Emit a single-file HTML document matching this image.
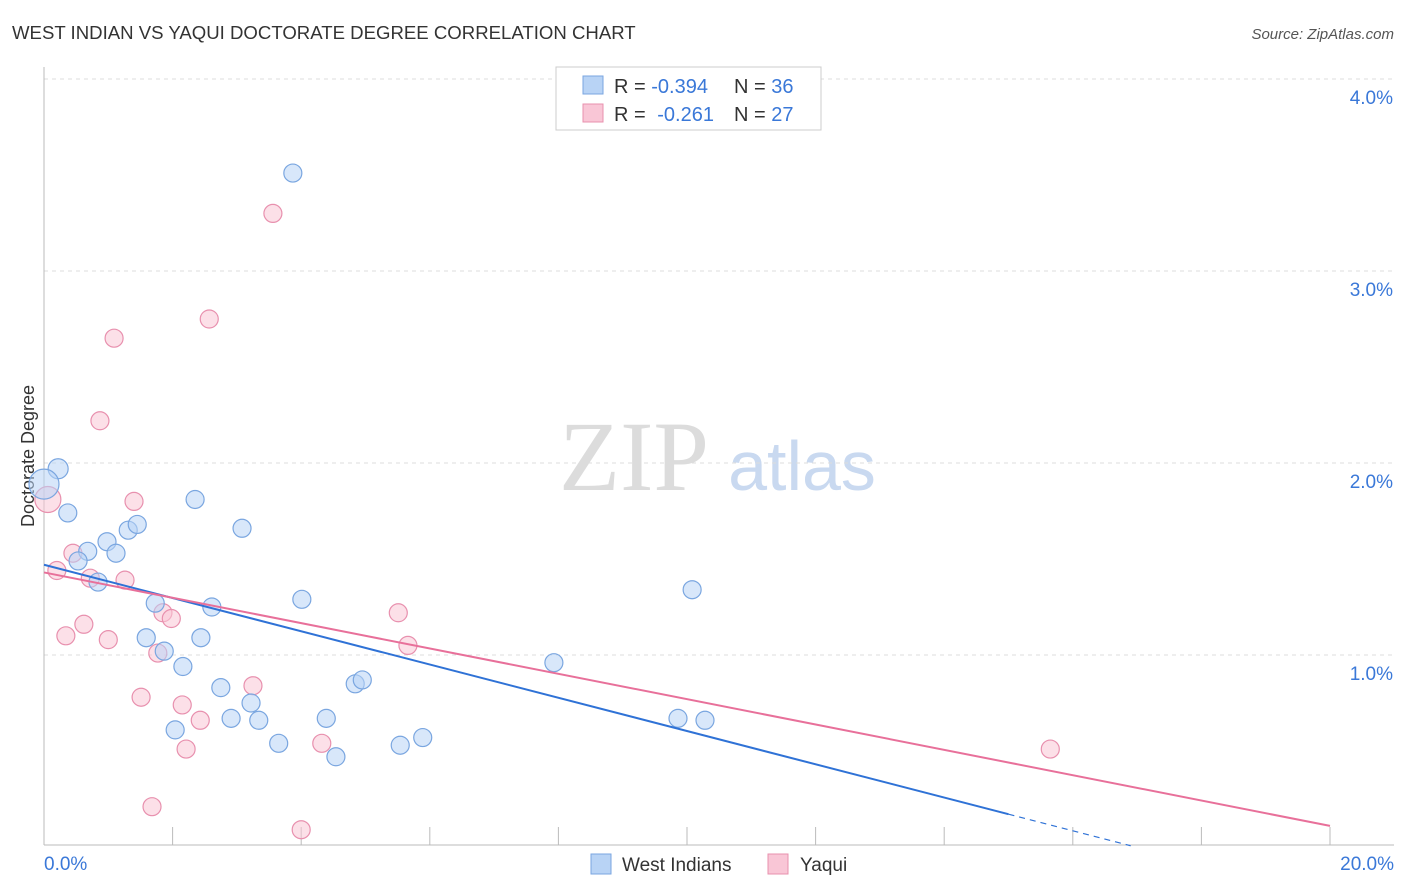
<!DOCTYPE html>
<html><head><meta charset="utf-8"><style>
body{margin:0;background:#fff;font-family:"Liberation Sans",sans-serif;}
#wrap{position:relative;width:1406px;height:892px;overflow:hidden;}
</style></head><body><div id="wrap">
<svg id="chart" width="1406" height="892" xmlns="http://www.w3.org/2000/svg">
<text x="12" y="39" font-size="18.6" fill="#333">WEST INDIAN VS YAQUI DOCTORATE DEGREE CORRELATION CHART</text>
<text x="1394" y="39" font-size="15" fill="#555" font-style="italic" text-anchor="end">Source: ZipAtlas.com</text>
<text x="634" y="490" font-size="100" fill="#dcdcdc" font-family="Liberation Serif,serif" text-anchor="middle">ZIP</text>
<text x="802" y="490" font-size="70" fill="#c9d9f0" text-anchor="middle">atlas</text>
<text transform="translate(34,456) rotate(-90)" font-size="18" fill="#333" text-anchor="middle">Doctorate Degree</text>
<g id="grid"></g><g id="axes"></g><g id="marks"></g>
<g>
<rect x="556" y="67" width="265" height="63" fill="#fff" stroke="#ccc"/>
<rect x="583" y="76" width="20" height="18" fill="#b8d3f5" stroke="#7aa6e0"/>
<rect x="583" y="104" width="20" height="18" fill="#f9c6d6" stroke="#e890ae"/>
<text x="614" y="93" font-size="20" fill="#333">R = <tspan fill="#3a78d8">-0.394</tspan><tspan x="734">N = </tspan><tspan fill="#3a78d8">36</tspan></text>
<text x="614" y="121" font-size="20" fill="#333">R = <tspan fill="#3a78d8" dx="6">-0.261</tspan><tspan x="734">N = </tspan><tspan fill="#3a78d8">27</tspan></text>
</g>
<g>
<rect x="591" y="854" width="20" height="20" fill="#b8d3f5" stroke="#7aa6e0"/>
<text x="622" y="871" font-size="19" fill="#333">West Indians</text>
<rect x="768" y="854" width="20" height="20" fill="#f9c6d6" stroke="#e890ae"/>
<text x="800" y="871" font-size="19" fill="#333">Yaqui</text>
</g>
</svg></div>
<script>
const blueX=[0.22,0.0,0.37,0.68,0.53,0.84,0.98,1.12,1.31,1.45,2.35,3.08,1.73,2.61,4.01,1.59,1.87,2.44,2.16,2.75,3.22,2.91,3.34,2.04,3.65,4.39,4.84,4.95,4.54,5.54,5.89,7.93,10.08,9.86,10.28,3.87];
const blueY=[1.97,1.89,1.74,1.54,1.49,1.38,1.59,1.53,1.65,1.68,1.81,1.66,1.27,1.25,1.29,1.09,1.02,1.09,0.94,0.83,0.75,0.67,0.66,0.61,0.54,0.67,0.85,0.87,0.47,0.53,0.57,0.96,1.34,0.67,0.66,3.51];
const pinkX=[0.06,0.2,0.45,0.72,1.26,1.40,0.87,1.09,2.57,3.56,0.34,0.62,1.0,1.85,1.98,1.77,1.51,2.15,2.43,2.21,1.68,3.25,4.32,4.0,5.51,5.66,15.65];
const pinkY=[1.81,1.44,1.53,1.40,1.39,1.80,2.22,2.65,2.75,3.30,1.10,1.16,1.08,1.22,1.19,1.01,0.78,0.74,0.66,0.51,0.21,0.84,0.54,0.09,1.22,1.05,0.51];
const yTicks=[1,2,3,4];
const yTickLabels=["1.0%","2.0%","3.0%","4.0%"];
const xTicks=[0,2,4,6,8,10,12,14,16,18,20];
const blueTrend=[1.47,-0.0866];
const pinkTrend=[1.43,-0.066];
const blueSolidEnd=15.0, blueDashEnd=16.9;
const X=v=>44+v*64.3, Y=v=>847-v*192;
const NS="http://www.w3.org/2000/svg";
function mk(t,a,p){const e=document.createElementNS(NS,t);for(const k in a)e.setAttribute(k,a[k]);p.appendChild(e);return e;}
const grid=document.getElementById('grid'),axes=document.getElementById('axes'),marks=document.getElementById('marks');
yTicks.forEach((t,i)=>{
 const l=mk('line',{x1:44,x2:1394,y1:Y(t),y2:Y(t),stroke:'#ddd','stroke-dasharray':'4,4'},grid);
 
 
 const tx=mk('text',{x:1393,y:Y(t)+25,'font-size':19,fill:'#3a78d8','text-anchor':'end'},axes);
 tx.textContent=yTickLabels[i];
 
 
});
const ax=mk('line',{x1:44,x2:44,y1:67,y2:845,stroke:'#bbb'},axes);


const bx=mk('line',{x1:44,x2:1394,y1:845,y2:845,stroke:'#bbb'},axes);


xTicks.forEach(t=>{const l=mk('line',{x1:X(t),x2:X(t),y1:827,y2:845,stroke:'#bbb'},axes);
 
 });
const l0=mk('text',{x:44,y:870,'font-size':19,fill:'#3a78d8'},axes);l0.textContent='0.0%';


const l1=mk('text',{x:1394,y:870,'font-size':19,fill:'#3a78d8','text-anchor':'end'},axes);l1.textContent='20.0%';


function pts(xs,ys,fill,stroke,name){xs.forEach((x,i)=>{
 let r=9; if(i<2&&name==='west-indian-point')r=i===1?15:10; if(i===0&&name==='yaqui-point')r=13;
 const c=mk('circle',{cx:X(x),cy:Y(ys[i]),r:r,fill:fill,'fill-opacity':0.55,stroke:stroke,'stroke-width':1.2},marks);
 
 });}
pts(pinkX,pinkY,'#f9c6d6','#e890ae','yaqui-point');
pts(blueX,blueY,'#b8d3f5','#7aa6e0','west-indian-point');
const bt=x=>blueTrend[0]+blueTrend[1]*x, pt=x=>pinkTrend[0]+pinkTrend[1]*x;
const b1=mk('line',{x1:X(0),y1:Y(bt(0)),x2:X(blueSolidEnd),y2:Y(bt(blueSolidEnd)),stroke:'#2f72d6','stroke-width':2},marks);


const b2=mk('line',{x1:X(blueSolidEnd),y1:Y(bt(blueSolidEnd)),x2:X(blueDashEnd),y2:Y(bt(blueDashEnd)),stroke:'#2f72d6','stroke-width':1.2,'stroke-dasharray':'6,5'},marks);


const p1=mk('line',{x1:X(0),y1:Y(pt(0)),x2:X(20),y2:Y(pt(20)),stroke:'#e8709a','stroke-width':2},marks);


</script></body></html>
